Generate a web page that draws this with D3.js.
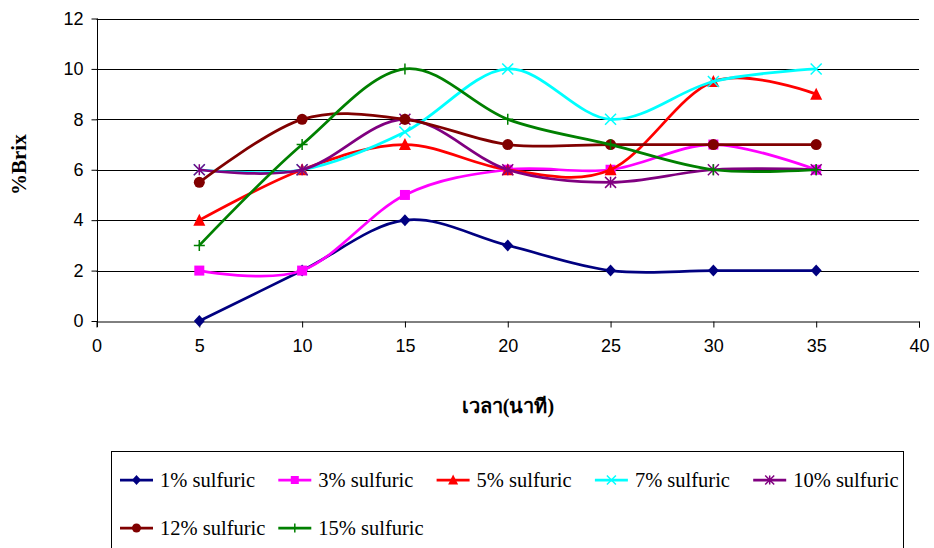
<!DOCTYPE html>
<html>
<head>
<meta charset="utf-8">
<script src="https://cdn.jsdelivr.net/npm/d3@7/dist/d3.min.js"></script>
<style>
  html, body { margin: 0; padding: 0; background: #fff; }
  svg { display: block; }
</style>
</head>
<body>
<svg id="chart" width="934" height="548"></svg>
<script>
// Sampling times (minutes)
const times = [5, 10, 15, 20, 25, 30, 35];

// %Brix readings per acid concentration
const s1  = [0, 2, 4, 3, 2, 2, 2];
const s3  = [2, 2, 5, 6, 6, 7, 6];
const s5  = [4, 6, 7, 6, 6, 9.5, 9];
const s7  = [6, 6, 7.5, 10, 8, 9.5, 10];
const s10 = [6, 6, 8, 6, 5.5, 6, 6];
const s12 = [5.5, 8, 8, 7, 7, 7, 7];
const s15 = [3, 7, 10, 8, 7, 6, 6];

const seriesNames = ["1% sulfuric", "3% sulfuric", "5% sulfuric", "7% sulfuric",
                     "10% sulfuric", "12% sulfuric", "15% sulfuric"];
const seriesValues = [s1, s3, s5, s7, s10, s12, s15];
const seriesColors = ["#000080", "#FF00FF", "#FF0000", "#00FFFF", "#800080", "#800000", "#008000"];
const seriesMarkers = ["diamond", "square", "triangle", "x", "asterisk", "circle", "plus"];

const xTicks = [0, 5, 10, 15, 20, 25, 30, 35, 40];
const yTicks = [0, 2, 4, 6, 8, 10, 12];

const xTitle = "เวลา(นาที)";
const yTitle = "%Brix";

const svg = d3.select("#chart");

const x = d3.scaleLinear().domain([0, 40]).range([96.5, 919]);
const y = d3.scaleLinear().domain([0, 12]).range([321, 18.5]);

// Horizontal gridlines
svg.append("g")
  .selectAll("line")
  .data(yTicks.filter(d => d > 0))
  .join("line")
  .attr("x1", x(0)).attr("x2", x(40))
  .attr("y1", d => Math.round(y(d)) + 0.5).attr("y2", d => Math.round(y(d)) + 0.5)
  .attr("stroke", "#000").attr("stroke-width", 1);

// Axes
const yAxis = d3.axisLeft(y).tickValues(yTicks).tickSize(6).tickPadding(8).tickFormat(d3.format("d"));
const xAxis = d3.axisBottom(x).tickValues(xTicks).tickSize(6).tickPadding(12).tickFormat(d3.format("d"));

const gy = svg.append("g").attr("transform", `translate(${Math.round(x(0)) + 0.5},0)`).call(yAxis);
const gx = svg.append("g").attr("transform", `translate(0,${Math.round(y(0)) + 0.5})`).call(xAxis);

[gx, gy].forEach(g => {
  g.select(".domain").attr("stroke", "#000").attr("stroke-width", 1);
  g.selectAll(".tick line").attr("stroke", "#000");
  g.selectAll(".tick text")
    .attr("fill", "#000")
    .style("font-family", "Arial, 'Liberation Sans', sans-serif")
    .style("font-size", "18px");
});
gy.select(".domain").attr("d", `M-0,${y(12)}V${y(0) + 6}`);
gx.selectAll(".tick").filter(d => d === 0).select("line").remove();

// Axis titles
svg.append("text")
  .attr("transform", `translate(26,${y(6.2)}) rotate(-90)`)
  .attr("text-anchor", "middle")
  .style("font-family", "'Times New Roman', 'Liberation Serif', serif")
  .style("font-weight", "bold")
  .style("font-size", "21px")
  .text(yTitle);

svg.append("text")
  .attr("x", 508).attr("y", 413)
  .attr("text-anchor", "middle")
  .style("font-family", "'Times New Roman', 'Liberation Serif', serif")
  .style("font-weight", "bold")
  .style("font-size", "20px")
  .text(xTitle);

// Marker drawing
function drawMarker(g, type, cx, cy, color, s) {
  const h = s / 2;
  if (type === "diamond") {
    g.append("path").attr("d", `M${cx},${cy - h - 0.5}L${cx + h},${cy}L${cx},${cy + h + 0.5}L${cx - h},${cy}Z`).attr("fill", color);
  } else if (type === "square") {
    g.append("rect").attr("x", cx - h + 0.5).attr("y", cy - h + 0.5).attr("width", s - 1).attr("height", s - 1).attr("fill", color);
  } else if (type === "triangle") {
    g.append("path").attr("d", `M${cx},${cy - h - 1}L${cx + h + 0.5},${cy + h}L${cx - h - 0.5},${cy + h}Z`).attr("fill", color);
  } else if (type === "circle") {
    g.append("circle").attr("cx", cx).attr("cy", cy).attr("r", h).attr("fill", color);
  } else if (type === "x") {
    g.append("path").attr("d", `M${cx - h},${cy - h}L${cx + h},${cy + h}M${cx - h},${cy + h}L${cx + h},${cy - h}`)
      .attr("stroke", color).attr("stroke-width", 1.5).attr("fill", "none");
  } else if (type === "asterisk") {
    g.append("path").attr("d", `M${cx - h},${cy - h}L${cx + h},${cy + h}M${cx - h},${cy + h}L${cx + h},${cy - h}M${cx},${cy - h}L${cx},${cy + h}`)
      .attr("stroke", color).attr("stroke-width", 1.5).attr("fill", "none");
  } else if (type === "plus") {
    g.append("path").attr("d", `M${cx - h},${cy}L${cx + h},${cy}M${cx},${cy - h}L${cx},${cy + h}`)
      .attr("stroke", color).attr("stroke-width", 1.5).attr("fill", "none");
  }
}

// Smoothed series lines with markers
const line = d3.line()
  .x((d, i) => x(times[i]))
  .y(d => y(d))
  .curve(d3.curveCardinal.tension(0));

const plot = svg.append("g");
seriesValues.forEach((vals, k) => {
  const g = plot.append("g");
  g.append("path")
    .attr("d", line(vals))
    .attr("fill", "none")
    .attr("stroke", seriesColors[k])
    .attr("stroke-width", 2.75)
    .attr("stroke-linejoin", "round");
  vals.forEach((v, i) => drawMarker(g, seriesMarkers[k], x(times[i]), y(v), seriesColors[k], 11));
});

// Legend
const legend = svg.append("g");
legend.append("rect")
  .attr("x", 111.5).attr("y", 451.5)
  .attr("width", 792).attr("height", 110)
  .attr("fill", "#fff").attr("stroke", "#000").attr("stroke-width", 1);

seriesNames.forEach((name, k) => {
  const col = k % 5, row = Math.floor(k / 5);
  const lx = 120 + col * 158.3;
  const ly = 481 + row * 48;
  const g = legend.append("g");
  g.append("line")
    .attr("x1", lx).attr("x2", lx + 33)
    .attr("y1", ly - 1).attr("y2", ly - 1)
    .attr("stroke", seriesColors[k]).attr("stroke-width", 2.75);
  drawMarker(g, seriesMarkers[k], lx + 16.5, ly - 1, seriesColors[k], 9);
  g.append("text")
    .attr("x", lx + 40).attr("y", ly + 6)
    .style("font-family", "'Times New Roman', 'Liberation Serif', serif")
    .style("font-size", "20.5px")
    .attr("fill", "#000")
    .text(name);
});
</script>
</body>
</html>
